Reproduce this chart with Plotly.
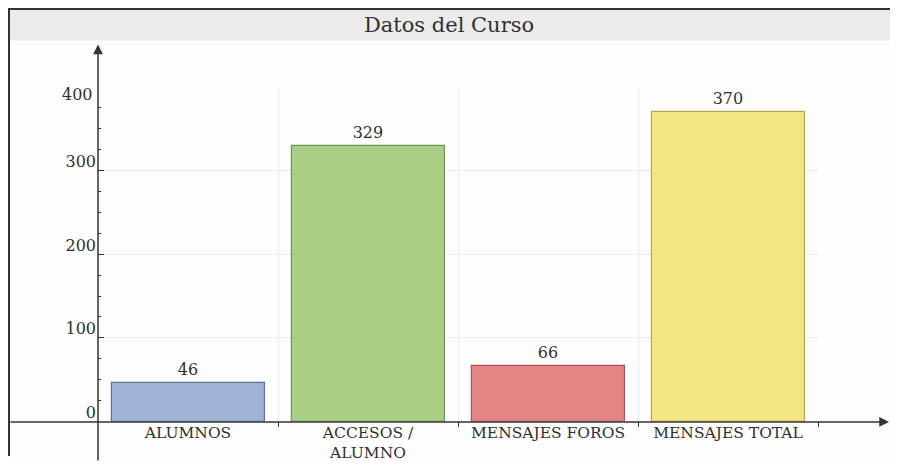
import plotly.graph_objects as go

categories = ["ALUMNOS", "ACCESOS /<br>ALUMNO", "MENSAJES FOROS", "MENSAJES TOTAL"]
values = [46, 329, 66, 370]
positions = [0.5, 1.5, 2.5, 3.5]
fill_colors = ["#9fb4d5", "#a9cf87", "#e38384", "#f3e682"]
line_colors = ["#5d7399", "#6e9650", "#a95254", "#b3a55a"]
y_ticks = [0, 100, 200, 300, 400]
y_tick_text = ["0", "100", "200", "300", ""]

# page body has an 8px margin: figure pixel = reference pixel - 8
OFF = 8
W, H = 898 - 2 * OFF, 470 - 2 * OFF
FONT = "DejaVu Serif"
TXT = "#303030"

def px_x(p):
    return (p - OFF) / W

def px_y(p):
    return (H - (p - OFF)) / H

fig = go.Figure()
fig.add_trace(go.Bar(
    x=positions, y=values, width=0.85,
    marker=dict(color=fill_colors, line=dict(color=line_colors, width=1.2)),
    text=[str(v) for v in values], textposition="outside", cliponaxis=False,
    textfont=dict(family=FONT, size=16, color=TXT),
    hoverinfo="skip",
))

fig.update_layout(
    width=W, height=H,
    margin=dict(l=0, r=0, t=0, b=0),
    paper_bgcolor="#fdfdfd",
    plot_bgcolor="#fdfdfd",
    showlegend=False,
    bargap=0,
    title=dict(text="Datos del Curso", x=0.5, xanchor="center",
               y=px_y(25), yanchor="middle", yref="paper",
               font=dict(family=FONT, size=21, color=TXT)),
    xaxis=dict(
        domain=[px_x(98), px_x(818)], range=[0, 4],
        tickvals=positions, ticktext=categories, ticks="",
        showgrid=False, zeroline=False, showline=False,
        tickfont=dict(family=FONT, size=15.5, color=TXT),
        ticklabelstandoff=0,
        minor=dict(tickvals=[1, 2, 3, 4], ticks="outside", ticklen=5,
                   tickwidth=1.2, tickcolor="#333", showgrid=True,
                   gridcolor="#ececec", gridwidth=1),
    ),
    yaxis=dict(
        domain=[px_y(427), px_y(88)], range=[0, 400],
        tickvals=y_ticks, ticktext=y_tick_text,
        ticks="inside", ticklen=6, tickwidth=1.2, tickcolor="#333",
        showgrid=True, gridcolor="#ececec", gridwidth=1,
        zeroline=False, showline=False,
        tickfont=dict(family=FONT, size=16, color=TXT),
        ticklabelshift=-9, ticklabelstandoff=1,
        minor=dict(dtick=25, ticks="inside", ticklen=3, tickwidth=1.2,
                   tickcolor="#333", showgrid=False),
    ),
)

shapes = [
    # title band
    dict(type="rect", xref="paper", yref="paper", x0=px_x(9), x1=1,
         y0=px_y(41), y1=1, fillcolor="#ebebeb", line=dict(width=0),
         layer="below"),
    # frame
    dict(type="line", xref="paper", yref="paper", x0=px_x(9), x1=px_x(9),
         y0=0, y1=1, line=dict(color="#333", width=2)),
    dict(type="line", xref="paper", yref="paper", x0=px_x(9), x1=1,
         y0=px_y(9), y1=px_y(9), line=dict(color="#333", width=2)),
]
fig.update_layout(shapes=shapes)

annotations = [
    # x axis line with arrow
    dict(xref="paper", yref="paper", x=1, y=px_y(427.5), ax=-(W - 1), ay=0,
         text="", showarrow=True, arrowhead=2, arrowsize=1.3, arrowwidth=1.5,
         arrowcolor="#333", standoff=0),
    # y axis line with arrow
    dict(xref="paper", yref="paper", x=px_x(98), y=px_y(45), ax=0, ay=H,
         text="", showarrow=True, arrowhead=2, arrowsize=1.3, arrowwidth=1.5,
         arrowcolor="#333", standoff=0),
    # top y tick label sits below its grid line
    dict(xref="paper", yref="y", x=px_x(95), y=y_ticks[-1], yshift=-8,
         text=str(y_ticks[-1]), showarrow=False, xanchor="right",
         font=dict(family=FONT, size=16, color=TXT)),
]
fig.update_layout(annotations=annotations)

fig.write_html("out.html")
